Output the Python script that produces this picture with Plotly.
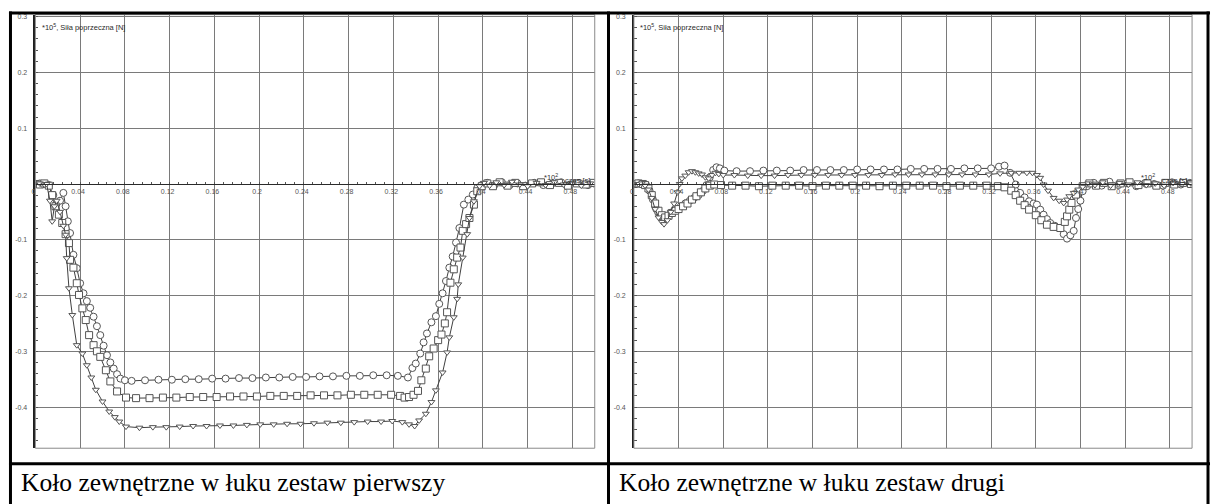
import plotly.graph_objects as go

# ---------------- data ----------------
tick_x_vals = [0, 0.04, 0.08, 0.12, 0.16, 0.2, 0.24, 0.28, 0.32, 0.36, 0.4, 0.44, 0.48]
tick_x_text = ["0", "0.04", "0.08", "0.12", "0.16", "0.2", "0.24", "0.28", "0.32", "0.36", "0.4", "0.44", "0.48"]
tick_y_vals = [-0.4, -0.3, -0.2, -0.1, 0.1, 0.2, 0.3]
tick_y_text = ["-0.4", "-0.3", "-0.2", "-0.1", "0.1", "0.2", "0.3"]

captions = ["Koło zewnętrzne w łuku zestaw pierwszy", "Koło zewnętrzne w łuku zestaw drugi"]
y_title = "*10<sup>5</sup>, Siła poprzeczna [N]"
x_title = "czas [s]"
x_scale = "*10<sup>2</sup>"

# chart 1 (zestaw pierwszy)
c1_circ_x = [0.000, 0.004, 0.008, 0.012, 0.016, 0.019, 0.022, 0.025, 0.027, 0.029, 0.031, 0.034, 0.037, 0.040,
             0.043, 0.046, 0.049, 0.052, 0.055, 0.058, 0.061, 0.064, 0.067, 0.070, 0.073, 0.076, 0.080, 0.086,
             0.098, 0.110, 0.122, 0.134, 0.146, 0.158, 0.170, 0.182, 0.194, 0.206, 0.218, 0.230, 0.242, 0.254,
             0.266, 0.278, 0.290, 0.302, 0.314,
             0.324, 0.333, 0.337, 0.340, 0.344, 0.347, 0.350, 0.354, 0.358, 0.361, 0.364, 0.367, 0.370, 0.373,
             0.376, 0.379, 0.383, 0.387, 0.391, 0.395, 0.399, 0.404, 0.410, 0.417, 0.424, 0.431, 0.438, 0.446,
             0.454, 0.462, 0.470, 0.478, 0.486, 0.494, 0.499]
c1_circ_y = [0.000, 0.001, 0.000, -0.002, -0.020, -0.035, -0.030, -0.016, -0.040, -0.067, -0.088, -0.127, -0.151, -0.178,
             -0.196, -0.210, -0.222, -0.238, -0.255, -0.271, -0.290, -0.307, -0.320, -0.331, -0.341, -0.349, -0.352, -0.353,
             -0.352, -0.351, -0.351, -0.350, -0.350, -0.349, -0.349, -0.348, -0.348, -0.347, -0.347, -0.346, -0.346, -0.345,
             -0.345, -0.344, -0.344, -0.343, -0.343,
             -0.344, -0.347, -0.330, -0.322, -0.304, -0.284, -0.268, -0.248, -0.237, -0.215, -0.196, -0.174, -0.150, -0.130,
             -0.105, -0.079, -0.037, -0.028, -0.019, -0.007, -0.002, 0.002, -0.003, 0.003, -0.002, 0.001, -0.003, 0.002,
             -0.002, 0.001, 0.003, -0.001, 0.002, -0.002, 0.001]

c1_sq_x = [0.000, 0.004, 0.008, 0.012, 0.015, 0.018, 0.021, 0.024, 0.027, 0.030, 0.031, 0.034, 0.037, 0.039, 0.042,
           0.045, 0.048, 0.052, 0.055, 0.058, 0.063, 0.067, 0.073, 0.081, 0.090,
           0.102, 0.114, 0.126, 0.138, 0.150, 0.162, 0.174, 0.186, 0.198, 0.210, 0.222, 0.234, 0.246, 0.258, 0.270,
           0.282, 0.294, 0.306, 0.318,
           0.326, 0.330, 0.334, 0.338, 0.342, 0.345, 0.349, 0.352, 0.356, 0.360, 0.363, 0.366, 0.368, 0.371, 0.374,
           0.377, 0.380, 0.382, 0.385, 0.388, 0.392, 0.395, 0.399, 0.404, 0.409, 0.415, 0.422, 0.429, 0.436, 0.444,
           0.452, 0.460, 0.468, 0.476, 0.484, 0.492, 0.499]
c1_sq_y = [0.000, -0.001, 0.001, -0.003, -0.020, -0.040, -0.055, -0.070, -0.090, -0.106, -0.136, -0.150, -0.178, -0.199, -0.223,
           -0.244, -0.271, -0.289, -0.300, -0.310, -0.334, -0.354, -0.372, -0.383, -0.384,
           -0.384, -0.383, -0.383, -0.382, -0.382, -0.382, -0.381, -0.381, -0.381, -0.380, -0.380, -0.380, -0.379, -0.379, -0.379,
           -0.378, -0.378, -0.378, -0.378,
           -0.380, -0.383, -0.382, -0.378, -0.371, -0.352, -0.331, -0.309, -0.295, -0.280, -0.270, -0.250, -0.230, -0.177, -0.153,
           -0.132, -0.114, -0.084, -0.072, -0.061, -0.037, -0.013, -0.004, 0.001, -0.004, 0.003, -0.003, 0.002, -0.004, 0.001,
           0.003, -0.002, 0.002, -0.003, 0.001, -0.001, 0.002]

c1_tri_x = [0.000, 0.004, 0.008, 0.010, 0.013, 0.015, 0.017, 0.019, 0.022, 0.025, 0.027, 0.028, 0.030, 0.033, 0.037,
            0.042, 0.046, 0.050, 0.054, 0.060, 0.066, 0.071, 0.075, 0.081, 0.093,
            0.105, 0.117, 0.129, 0.141, 0.153, 0.165, 0.177, 0.189, 0.201, 0.213, 0.225, 0.237, 0.249, 0.261, 0.273,
            0.285, 0.297, 0.309, 0.319,
            0.328, 0.334, 0.339, 0.343, 0.349, 0.354, 0.358, 0.364, 0.368, 0.370, 0.374, 0.377, 0.378, 0.382, 0.386,
            0.388, 0.392, 0.397, 0.401, 0.406, 0.412, 0.419, 0.426, 0.433, 0.440, 0.448, 0.456, 0.464, 0.472, 0.480,
            0.488, 0.496]
c1_tri_y = [0.000, 0.001, -0.001, 0.000, -0.030, -0.067, -0.040, -0.030, -0.050, -0.075, -0.091, -0.133, -0.187, -0.235, -0.289,
            -0.304, -0.325, -0.347, -0.369, -0.390, -0.408, -0.418, -0.426, -0.435, -0.437,
            -0.436, -0.436, -0.435, -0.434, -0.434, -0.433, -0.433, -0.432, -0.431, -0.431, -0.430, -0.430, -0.429, -0.428, -0.428,
            -0.427, -0.426, -0.426, -0.425,
            -0.427, -0.431, -0.434, -0.424, -0.412, -0.391, -0.370, -0.338, -0.302, -0.275, -0.239, -0.206, -0.180, -0.132, -0.090,
            -0.061, -0.031, -0.004, 0.002, -0.003, 0.003, -0.002, 0.004, -0.001, -0.004, 0.002, -0.002, 0.003, -0.001, 0.002,
            -0.003, 0.001]

# chart 2 (zestaw drugi)
c2_circ_x = [0.000, 0.004, 0.008, 0.011, 0.014, 0.017, 0.020, 0.023, 0.026, 0.029, 0.032, 0.035, 0.038, 0.042, 0.046,
             0.050, 0.054, 0.058, 0.062, 0.065, 0.068, 0.071, 0.074, 0.077, 0.081,
             0.092, 0.104, 0.116, 0.128, 0.140, 0.152, 0.164, 0.176, 0.188, 0.200, 0.212, 0.224, 0.236, 0.248, 0.260,
             0.272, 0.284, 0.296, 0.308, 0.320,
             0.327, 0.332, 0.337, 0.342, 0.346, 0.350, 0.354, 0.358, 0.361, 0.364, 0.367, 0.370, 0.373, 0.377, 0.381,
             0.385, 0.388, 0.391, 0.394, 0.396, 0.398, 0.400, 0.402, 0.406, 0.412, 0.419, 0.426, 0.434, 0.442, 0.450,
             0.458, 0.466, 0.474, 0.482, 0.490, 0.498]
c2_circ_y = [0.000, 0.001, 0.000, -0.002, -0.012, -0.028, -0.045, -0.055, -0.062, -0.060, -0.055, -0.050, -0.046, -0.040, -0.035,
             -0.030, -0.025, -0.020, -0.012, -0.002, 0.012, 0.025, 0.030, 0.028, 0.024,
             0.023, 0.023, 0.024, 0.024, 0.024, 0.025, 0.025, 0.025, 0.025, 0.026, 0.026, 0.026, 0.026, 0.027, 0.027,
             0.027, 0.027, 0.028, 0.028, 0.028,
             0.031, 0.033, 0.020, -0.001, -0.016, -0.024, -0.031, -0.035, -0.037, -0.046, -0.055, -0.063, -0.070, -0.075, -0.079,
             -0.090, -0.098, -0.092, -0.084, -0.061, -0.045, -0.030, -0.013, -0.004, 0.002, -0.003, 0.004, -0.002, 0.001, -0.004,
             0.002, 0.000, -0.003, 0.003, -0.001, 0.002]

c2_tri_x = [0.000, 0.004, 0.007, 0.010, 0.013, 0.016, 0.019, 0.022, 0.025, 0.027, 0.030, 0.033, 0.036, 0.039, 0.041,
            0.043, 0.046, 0.049, 0.052, 0.055, 0.058, 0.061, 0.064, 0.067, 0.070, 0.073, 0.076, 0.080,
            0.090, 0.102, 0.114, 0.126, 0.138, 0.150, 0.162, 0.174, 0.186, 0.198, 0.210, 0.222, 0.234, 0.246, 0.258,
            0.270, 0.282, 0.294, 0.306, 0.318,
            0.328, 0.338, 0.345, 0.352, 0.357, 0.361, 0.364, 0.367, 0.371, 0.376, 0.381, 0.385, 0.388, 0.390, 0.394,
            0.398, 0.402, 0.407, 0.413, 0.420, 0.427, 0.435, 0.443, 0.451, 0.459, 0.467, 0.475, 0.483, 0.491, 0.499]
c2_tri_y = [0.000, 0.000, 0.001, -0.003, -0.010, -0.025, -0.045, -0.060, -0.068, -0.072, -0.065, -0.050, -0.035, -0.015, 0.000,
            0.010, 0.015, 0.021, 0.023, 0.021, 0.019, 0.017, 0.012, 0.010, 0.016, 0.020, 0.018, 0.016,
            0.016, 0.015, 0.015, 0.015, 0.016, 0.016, 0.016, 0.016, 0.016, 0.016, 0.016, 0.016, 0.017, 0.017, 0.017,
            0.017, 0.017, 0.017, 0.017, 0.017,
            0.019, 0.020, 0.020, 0.020, 0.020, 0.016, 0.011, -0.001, -0.012, -0.025, -0.030, -0.034, -0.028, -0.022, -0.016,
            -0.010, -0.005, 0.001, -0.002, 0.003, -0.003, 0.002, -0.001, 0.003, -0.002, 0.001, -0.003, 0.002, 0.000, 0.001]

c2_sq_x = [0.000, 0.004, 0.008, 0.010, 0.013, 0.016, 0.019, 0.022, 0.025, 0.028, 0.031, 0.034, 0.037, 0.040, 0.044,
           0.048, 0.052, 0.056, 0.060, 0.064, 0.068, 0.072, 0.078,
           0.088, 0.100, 0.112, 0.124, 0.136, 0.148, 0.160, 0.172, 0.184, 0.196, 0.208, 0.220, 0.232, 0.244, 0.256,
           0.268, 0.280, 0.292, 0.304, 0.316,
           0.326, 0.332, 0.338, 0.342, 0.346, 0.350, 0.354, 0.360, 0.365, 0.370, 0.376, 0.382, 0.386, 0.388, 0.390,
           0.392, 0.396, 0.402, 0.408, 0.414, 0.421, 0.428, 0.436, 0.444, 0.452, 0.460, 0.468, 0.476, 0.484, 0.492, 0.499]
c2_sq_y = [0.000, 0.001, 0.000, -0.002, -0.008, -0.020, -0.035, -0.048, -0.056, -0.060, -0.057, -0.052, -0.048, -0.045, -0.040,
           -0.035, -0.028, -0.022, -0.015, -0.008, -0.003, -0.001, -0.002,
           -0.003, -0.003, -0.004, -0.003, -0.003, -0.003, -0.004, -0.003, -0.003, -0.003, -0.003, -0.004, -0.003, -0.003, -0.003,
           -0.003, -0.004, -0.003, -0.003, -0.003,
           -0.004, -0.006, -0.012, -0.020, -0.030, -0.038, -0.046, -0.056, -0.065, -0.073, -0.077, -0.079, -0.068, -0.058, -0.046,
           -0.034, -0.019, -0.004, 0.001, -0.003, 0.002, -0.004, 0.001, 0.003, -0.002, 0.001, -0.003, 0.002, -0.001, 0.002, 0.000]

# ---------------- layout geometry (pixels) ----------------
W, H = 1212, 504


def fx(p):
    return p / W


def fy(p):
    return 1 - p / H


X_RANGE = [0, 0.5]
Y_RANGE = [-0.4738, 0.3036]
PLOT_TOP, PLOT_BOT = 12.7, 448.0
PANELS = [(31.5, 592.7), (632.0, 1192.0)]
ZERO_PAPER = fy(PLOT_TOP + Y_RANGE[1] * (PLOT_BOT - PLOT_TOP) / (Y_RANGE[1] - Y_RANGE[0]))

LINE_C = "#404040"
MARK_C = "#555555"
GRID_C = "#7a7a7a"
TICK_FONT = dict(family="Liberation Sans, Arial, sans-serif", size=7, color="#555555")

fig = go.Figure()

series = [
    (c1_circ_x, c1_circ_y, "circle", 7, "x", "y"),
    (c1_sq_x, c1_sq_y, "square", 7, "x", "y"),
    (c1_tri_x, c1_tri_y, "triangle-down", 6, "x", "y"),
    (c2_circ_x, c2_circ_y, "circle", 7, "x2", "y2"),
    (c2_sq_x, c2_sq_y, "square", 7, "x2", "y2"),
    (c2_tri_x, c2_tri_y, "triangle-down", 6, "x2", "y2"),
]
for xs, ys, sym, sz, xa, ya in series:
    fig.add_trace(go.Scatter(
        x=xs, y=ys, mode="lines+markers", xaxis=xa, yaxis=ya, showlegend=False,
        line=dict(color=LINE_C, width=1),
        marker=dict(symbol=sym, size=sz, color="white", line=dict(color=MARK_C, width=1)),
    ))


def xaxis_cfg(left, right):
    return dict(
        domain=[fx(left), fx(right)], range=X_RANGE, anchor="free", position=ZERO_PAPER,
        tickmode="array", tickvals=tick_x_vals, ticktext=tick_x_text, ticks="",
        ticklabelshift=-2, ticklabelstandoff=1,
        tickfont=TICK_FONT, showgrid=True, gridcolor=GRID_C, gridwidth=1, zeroline=False,
        showline=True, linecolor="#2a2a2a", linewidth=1,
        minor=dict(dtick=0.008, tick0=0, ticks="inside", ticklen=2, tickcolor="#555555", showgrid=False),
        fixedrange=True,
    )


def yaxis_cfg(anchor):
    return dict(
        domain=[fy(PLOT_BOT), fy(PLOT_TOP)], range=Y_RANGE, anchor=anchor,
        tickmode="array", tickvals=tick_y_vals, ticktext=tick_y_text, ticks="",
        ticklabelstandoff=5,
        tickfont=TICK_FONT, showgrid=True, gridcolor=GRID_C, gridwidth=1, zeroline=False,
        showline=True, linecolor="#1e1e1e", linewidth=1.5,
        minor=dict(dtick=0.02, tick0=0, ticks="inside", ticklen=3, tickcolor="#555555", showgrid=False),
        fixedrange=True,
    )


fig.update_layout(
    width=W, height=H, margin=dict(l=0, r=0, t=0, b=0),
    paper_bgcolor="white", plot_bgcolor="white",
    xaxis=xaxis_cfg(*PANELS[0]), yaxis=yaxis_cfg("x"),
    xaxis2=xaxis_cfg(*PANELS[1]), yaxis2=yaxis_cfg("x2"),
)

shapes = []
# plot frames
for xr, yr in [("x domain", "y domain"), ("x2 domain", "y2 domain")]:
    shapes.append(dict(type="rect", xref=xr, yref=yr, x0=0, x1=1, y0=0, y1=1,
                       line=dict(color="#8a8a8a", width=1), layer="above"))
# table borders
BK = dict(color="black", width=3)
shapes.append(dict(type="line", xref="paper", yref="paper", x0=fx(5), x1=fx(1210), y0=fy(11), y1=fy(11), line=BK))
shapes.append(dict(type="line", xref="paper", yref="paper", x0=fx(5), x1=fx(1210), y0=fy(463.5), y1=fy(463.5), line=BK))
for vx in [6.5, 606.5, 1208.0]:
    shapes.append(dict(type="line", xref="paper", yref="paper", x0=fx(vx), x1=fx(vx), y0=fy(9.5), y1=0, line=BK))
fig.update_layout(shapes=shapes)

ann = []
for i, (left, right) in enumerate(PANELS):
    xr = "x" if i == 0 else "x2"
    yr = "y" if i == 0 else "y2"
    ann.append(dict(text=y_title, xref=xr, yref=yr, x=0.004, y=0.2816, xanchor="left", yanchor="middle",
                    showarrow=False, font=dict(family="Liberation Sans, Arial, sans-serif", size=7.5, color="#2a2a2a")))
    ann.append(dict(text=x_scale, xref=xr, yref=yr, x=0.4605, y=0.0125, xanchor="center", yanchor="middle",
                    showarrow=False, font=dict(family="Liberation Sans, Arial, sans-serif", size=7.5, color="#333333")))
    ann.append(dict(text=x_title, xref=xr, yref=yr, x=0.4845, y=0.0068, xanchor="center", yanchor="middle",
                    showarrow=False, font=dict(family="Liberation Sans, Arial, sans-serif", size=7.5, color="#333333")))
ann.append(dict(text=captions[0], xref="paper", yref="paper", x=fx(15), y=fy(482), xanchor="left", yanchor="middle",
                showarrow=False, font=dict(family="Liberation Serif, Times New Roman, serif", size=25.5, color="black")))
ann.append(dict(text=captions[1], xref="paper", yref="paper", x=fx(615), y=fy(482), xanchor="left", yanchor="middle",
                showarrow=False, font=dict(family="Liberation Serif, Times New Roman, serif", size=25.5, color="black")))
fig.update_layout(annotations=ann)

fig.write_html(
    "out.html",
    config={"displayModeBar": False},
    post_script="document.body.style.margin='0';document.body.style.padding='0';document.body.style.overflow='hidden';",
)
